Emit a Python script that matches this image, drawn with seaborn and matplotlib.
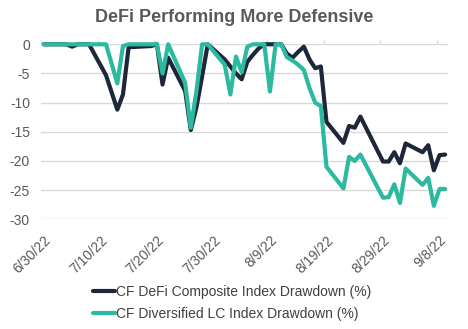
import pandas as pd
import matplotlib
matplotlib.use("Agg")
import matplotlib.pyplot as plt
import seaborn as sns

dates = [
    "2022-06-30", "2022-07-04", "2022-07-05", "2022-07-06", "2022-07-08",
    "2022-07-11", "2022-07-13", "2022-07-14", "2022-07-15", "2022-07-19",
    "2022-07-20", "2022-07-21", "2022-07-22", "2022-07-25", "2022-07-26",
    "2022-07-27", "2022-07-28", "2022-07-29", "2022-08-01", "2022-08-02",
    "2022-08-03", "2022-08-04", "2022-08-05", "2022-08-06", "2022-08-07",
    "2022-08-08", "2022-08-09", "2022-08-10", "2022-08-11", "2022-08-12",
    "2022-08-13", "2022-08-14", "2022-08-15", "2022-08-16", "2022-08-17",
    "2022-08-18", "2022-08-19", "2022-08-22", "2022-08-23", "2022-08-24",
    "2022-08-25", "2022-08-29", "2022-08-30", "2022-08-31", "2022-09-01",
    "2022-09-02", "2022-09-05", "2022-09-06", "2022-09-07", "2022-09-08",
    "2022-09-09",
]

defi_drawdown = [
    0.0, 0.0, -0.4, 0.0, 0.0,
    -5.3, -11.2, -8.6, -0.5, -0.3,
    0.0, -6.9, -2.3, -8.0, -14.7,
    -10.8, -5.5, 0.0, -2.6, -3.8,
    -5.0, -6.0, -3.0, -1.8, -0.7,
    0.0, 0.0, 0.0, 0.0, -1.6,
    -2.3, -1.3, -0.4, -2.6, -4.1,
    -3.8, -13.3, -16.9, -14.0, -14.3,
    -12.4, -20.1, -20.1, -18.5, -20.4,
    -17.0, -18.5, -17.3, -21.6, -19.0,
    -18.9,
]

lc_drawdown = [
    0.0, 0.0, 0.0, 0.0, 0.0,
    0.0, -6.7, -0.3, 0.0, 0.0,
    0.0, -5.0, 0.0, -6.6, -14.3,
    -8.0, 0.0, 0.0, -3.5, -8.6,
    -2.1, -4.8, -0.4, 0.0, 0.0,
    0.0, -8.1, 0.0, 0.0, -2.2,
    -2.8, -3.5, -4.4, -7.5, -10.0,
    -10.6, -21.0, -24.7, -19.3, -20.0,
    -18.9, -26.3, -26.2, -24.0, -27.2,
    -21.3, -24.1, -22.9, -27.7, -24.8,
    -24.8,
]

series_names = [
    "CF DeFi Composite Index Drawdown (%)",
    "CF Diversified LC Index Drawdown (%)",
]
series_colors = ["#1d2739", "#2bb9a0"]

tick_dates = ["2022-06-30", "2022-07-10", "2022-07-20", "2022-07-30",
              "2022-08-09", "2022-08-19", "2022-08-29", "2022-09-08"]
y_ticks = [0, -5, -10, -15, -20, -25, -30]

sns.set_style("white")
plt.rcParams["font.family"] = ["Liberation Sans", "DejaVu Sans"]

df = pd.DataFrame({
    "date": pd.to_datetime(dates * 2),
    "drawdown": defi_drawdown + lc_drawdown,
    "series": [series_names[0]] * len(dates) + [series_names[1]] * len(dates),
})

fig = plt.figure(figsize=(4.68, 3.29), dpi=100)
ax = fig.add_axes([41 / 468, 1 - 219.3 / 329, 407 / 468, 175 / 329])

sns.lineplot(data=df, x="date", y="drawdown", hue="series",
             palette=dict(zip(series_names, series_colors)),
             linewidth=3.0, ax=ax, clip_on=False, legend=True)

start = pd.Timestamp(dates[0]) - pd.Timedelta(hours=12)
end = pd.Timestamp(dates[-1]) + pd.Timedelta(hours=12)
ax.set_xlim(start, end)
ax.set_ylim(-30, 0)

ax.set_yticks(y_ticks)
ax.set_yticklabels([str(v) for v in y_ticks])
ax.yaxis.grid(True, color="#d9d9d9", linewidth=1.0)
ax.xaxis.grid(False)
for s in ax.spines.values():
    s.set_visible(False)

ticks = pd.to_datetime(tick_dates)
ax.set_xticks(ticks)
ax.set_xticklabels([f"{t.month}/{t.day}/{t.year % 100}" for t in ticks],
                   rotation=45, ha="right", rotation_mode="anchor")
ax.set_xticks(ticks - pd.Timedelta(hours=12), minor=True)
ax.tick_params(axis="x", which="major", length=0, pad=10,
               labelsize=10, labelcolor="#595959")
ax.tick_params(axis="x", which="minor", top=True, bottom=False,
               length=3, direction="out", color="#d9d9d9", width=1)
ax.tick_params(axis="y", length=0, pad=8, labelsize=10, labelcolor="#595959")
ax.set_xlabel("")
ax.set_ylabel("")

leg = ax.legend(loc="upper center", bbox_to_anchor=(232 / 468, 1 - 285 / 329),
                bbox_transform=fig.transFigure, ncol=1, frameon=False,
                fontsize=10, handlelength=1.6, handletextpad=0.1,
                labelspacing=0.6, borderaxespad=0, borderpad=0)
for t in leg.get_texts():
    t.set_color("#404040")
for h in leg.get_lines():
    h.set_linewidth(3.0)

fig.text(0.5, 1 - 17 / 329, "DeFi Performing More Defensive",
         ha="center", va="center", fontsize=13, fontweight="bold",
         color="#595959")

fig.savefig("out.png", dpi=100)
